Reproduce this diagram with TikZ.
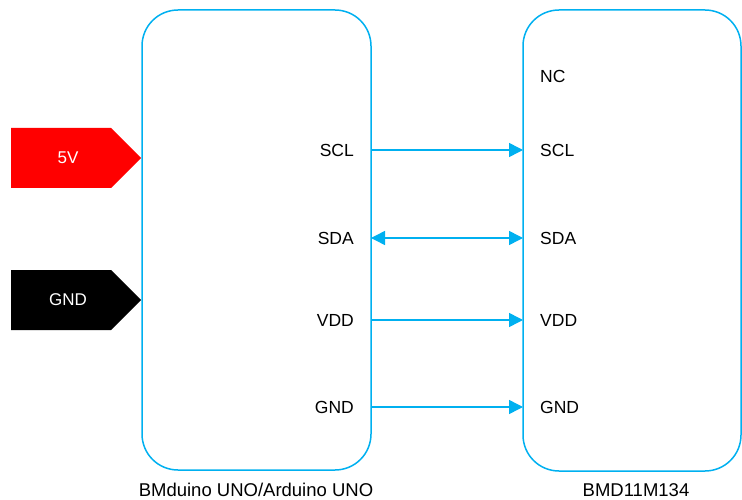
\documentclass[tikz,border=0pt]{standalone}
\usepackage{fontspec}
\setmainfont{Liberation Sans}
\usetikzlibrary{arrows.meta,calc}
\definecolor{wire}{RGB}{0,176,240}
\definecolor{pwr}{RGB}{255,0,0}
\tikzset{
  board/.style={draw=wire, line width=1.5pt, rounded corners=36pt, fill=none},
  pinL/.style={anchor=east, font=\fontsize{17.5}{20}\selectfont, inner sep=0pt},
  pinR/.style={anchor=west, font=\fontsize{17.5}{20}\selectfont, inner sep=0pt},
  boardcaption/.style={font=\fontsize{18.5}{21}\selectfont, inner sep=0pt},
  link/.style={draw=wire, line width=1.5pt, -{Triangle[length=14pt,width=14pt]}},
  blink/.style={draw=wire, line width=1.5pt, {Triangle[length=14pt,width=14pt]}-{Triangle[length=14pt,width=14pt]}},
  tag/.style={font=\fontsize{17}{20}\selectfont, text=white, inner sep=0pt}
}
\begin{document}
\begin{tikzpicture}[x=1pt,y=-1pt]
\useasboundingbox (0,0) rectangle (742,500);

% boards
\draw[board] (142,10) rectangle (371,470);
\coordinate (Lw) at (142,240);
\coordinate (Le) at (371,240);
\draw[board] (523,10) rectangle (741,471);
\coordinate (Rw) at (523,240);

% supply tags
\fill[pwr] (11,128) -- (111,128) -- (141,158) -- (111,188) -- (11,188) -- cycle;
\node[tag] (v5) at (68,158) {5V};
\fill[black] (11,270) -- (111,270) -- (141,300) -- (111,330) -- (11,330) -- cycle;
\node[tag] (gndin) at (68,300) {GND};

% controller pins
\node[pinL] (lscl) at (354,150) {SCL};
\node[pinL] (lsda) at (354,238) {SDA};
\node[pinL] (lvdd) at (354,320) {VDD};
\node[pinL] (lgnd) at (354,407) {GND};

% module pins
\node[pinR] (rnc)  at (540,76)  {NC};
\node[pinR] (rscl) at (540,150) {SCL};
\node[pinR] (rsda) at (540,238) {SDA};
\node[pinR] (rvdd) at (540,320) {VDD};
\node[pinR] (rgnd) at (540,407) {GND};

% bus wires
\draw[link]  (Le |- lscl) -- (Rw |- rscl);
\draw[blink] (Le |- lsda) -- (Rw |- rsda);
\draw[link]  (Le |- lvdd) -- (Rw |- rvdd);
\draw[link]  (Le |- lgnd) -- (Rw |- rgnd);

% captions
\node[boardcaption] (capL) at (256,490) {BMduino UNO/Arduino UNO};
\node[boardcaption] (capR) at (636,490) {BMD11M134};
\end{tikzpicture}
\end{document}
